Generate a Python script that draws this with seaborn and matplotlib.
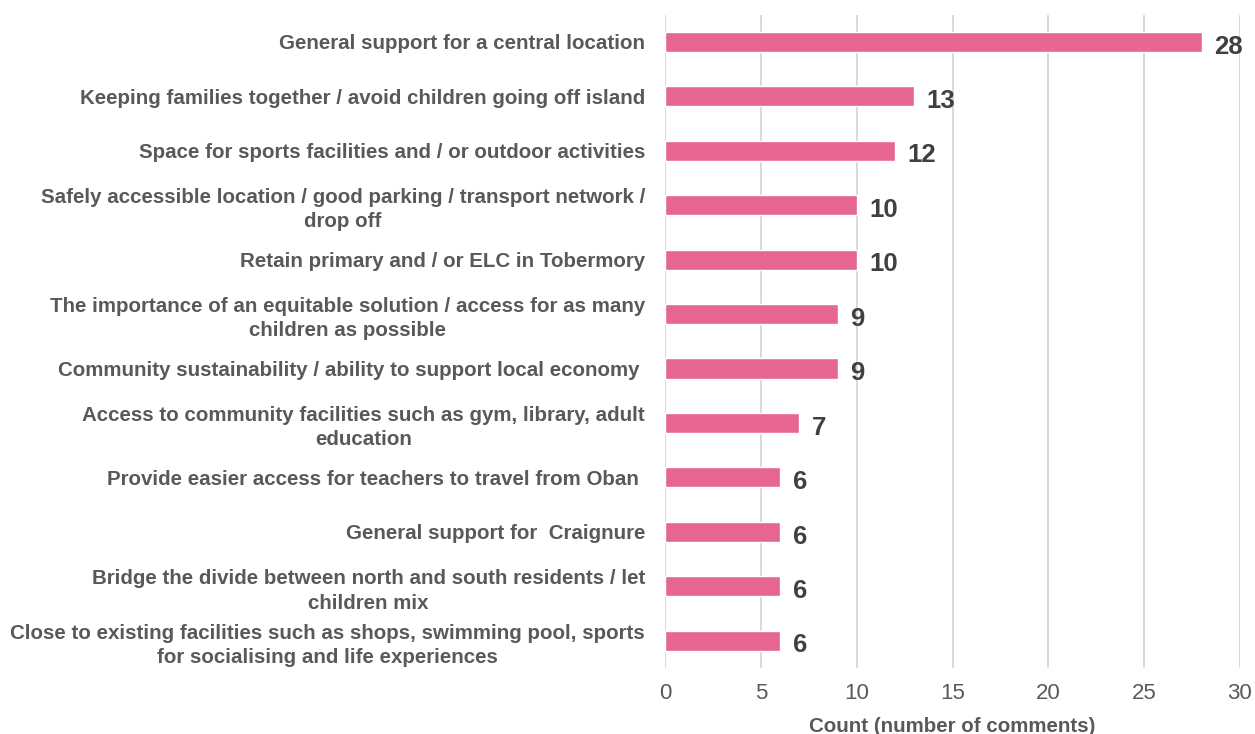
import matplotlib
matplotlib.use("Agg")
import matplotlib.pyplot as plt
import seaborn as sns
import pandas as pd

categories = [
    "General support for a central location",
    "Keeping families together / avoid children going off island",
    "Space for sports facilities and / or outdoor activities",
    "Safely accessible location / good parking / transport network /\ndrop off",
    "Retain primary and / or ELC in Tobermory",
    "The importance of an equitable solution / access for as many\nchildren as possible",
    "Community sustainability / ability to support local economy ",
    "Access to community facilities such as gym, library, adult\neducation",
    "Provide easier access for teachers to travel from Oban ",
    "General support for  Craignure",
    "Bridge the divide between north and south residents / let\nchildren mix",
    "Close to existing facilities such as shops, swimming pool, sports\nfor socialising and life experiences",
]
counts = [28, 13, 12, 10, 10, 9, 9, 7, 6, 6, 6, 6]
xticks = [0, 5, 10, 15, 20, 25, 30]

df = pd.DataFrame({"category": categories, "count": counts})

sns.set_theme(style="white")
plt.rcParams['font.family'] = ['Liberation Sans', 'DejaVu Sans']

fig = plt.figure(figsize=(12.55, 7.34), dpi=100)
ax = fig.add_axes([0.530, 0.090, 0.458, 0.890])

sns.barplot(data=df, x="count", y="category", orient="h", color="#E66690",
            width=0.37, saturation=1, ax=ax, zorder=3)

for p, v in zip(ax.patches, counts):
    ax.text(p.get_width() + 0.65, p.get_y() + p.get_height() / 2 + 0.04, str(v),
            va="center_baseline", ha="left", fontsize=18.5, fontweight="bold",
            color="#404040")

ax.set_xlim(0, 30)
ax.set_xticks(xticks)
ax.set_xticklabels([str(t) for t in xticks], fontsize=16, color="#595959")
ax.set_ylim(len(categories) - 0.5, -0.5)
ax.set_ylabel("")
ax.set_xlabel("Count (number of comments)", fontsize=14.8, fontweight="bold",
              color="#595959", labelpad=9)
ax.set_yticks(range(len(categories)))
ax.set_yticklabels(categories, fontsize=14.8, fontweight="bold", color="#595959",
                   ha="right")
ax.tick_params(axis="y", length=0, pad=14.5)
ax.tick_params(axis="x", length=0, pad=11)
for lbl in ax.get_yticklabels():
    lbl.set_multialignment("center")
    lbl.set_linespacing(1.35)

ax.grid(axis="x", color="#D9D9D9", linewidth=1.4, zorder=0)
for s in ax.spines.values():
    s.set_visible(False)

fig.savefig("out.png", dpi=100)
